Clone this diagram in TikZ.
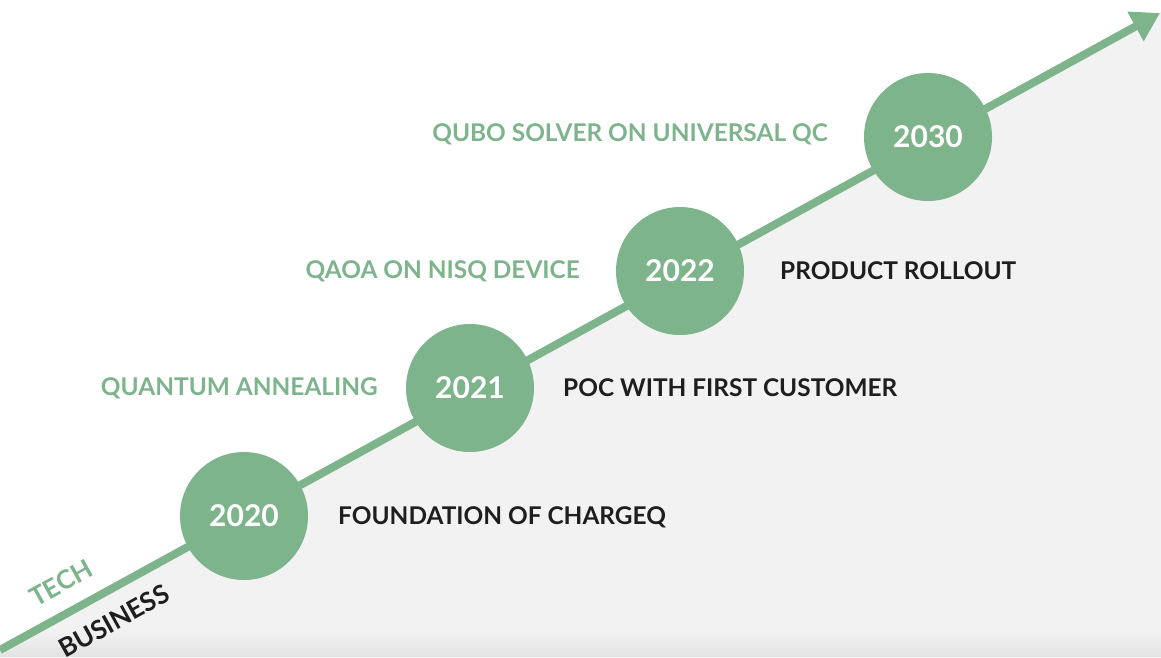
\documentclass[tikz,border=0pt]{standalone}
\usepackage{fontspec}
\setmainfont{Lato}
\usetikzlibrary{arrows.meta}

\definecolor{qgreen}{HTML}{7DB48C}
\definecolor{qdark}{HTML}{1E1E1E}
\definecolor{qgrey}{HTML}{F2F2F2}

\begin{document}
\begin{tikzpicture}[x=1pt,y=-1pt,
  year/.style={circle,fill=qgreen,minimum size=128pt,inner sep=0pt,text=white,
    font=\fontsize{30}{30}\selectfont\bfseries},
  tech/.style={text=qgreen,inner sep=0pt,font=\fontsize{24.4}{24}\selectfont\bfseries},
  biz/.style={text=qdark,inner sep=0pt,font=\fontsize{24.4}{24}\selectfont\bfseries},
  track/.style={inner sep=0pt,rotate=29,font=\fontsize{26}{26}\selectfont\bfseries}]

\useasboundingbox (0,0) rectangle (1161,657);

% grey area under the timeline
\fill[qgrey] (0,657) -- (0,650) -- (1161,12) -- (1161,657) -- cycle;
\begin{scope}
\clip (0,657) -- (0,650) -- (1161,12) -- (1161,657) -- cycle;
\shade[top color=qgrey,bottom color=black!11] (0,630) rectangle (1161,657); % soft bottom edge
\end{scope}

\coordinate (start) at (0,650);
\coordinate (tip) at (1160,13);
\draw[qgreen,line width=8pt,-{Triangle[length=28pt,width=32pt]}] (start) -- (tip); % timeline

\foreach \yr/\px/\py in {2020/244/516, 2021/470/388, 2022/680/271, 2030/928/137}{
    \node[year] (y\yr) at (\px,\py) {\yr};
}

% tech track (above the line)
\node[tech,anchor=east] (anneal) at (378,388) {QUANTUM ANNEALING};
\node[tech,anchor=east] (qaoa) at (580,271) {QAOA ON NISQ DEVICE};
\node[tech,anchor=east] (qubo) at (828,134) {QUBO SOLVER ON UNIVERSAL QC};

% business track (below the line)
\node[biz,anchor=west] (found) at (338,517) {FOUNDATION OF CHARGEQ};
\node[biz,anchor=west] (poc) at (563,388) {POC WITH FIRST CUSTOMER};
\node[biz,anchor=west] (rollout) at (780,271) {PRODUCT ROLLOUT};

% track names
\node[track,text=qgreen] (techlbl) at (61,583) {TECH};
\node[track,text=qdark] (bizlbl) at (114,621) {BUSINESS};

\end{tikzpicture}
\end{document}
